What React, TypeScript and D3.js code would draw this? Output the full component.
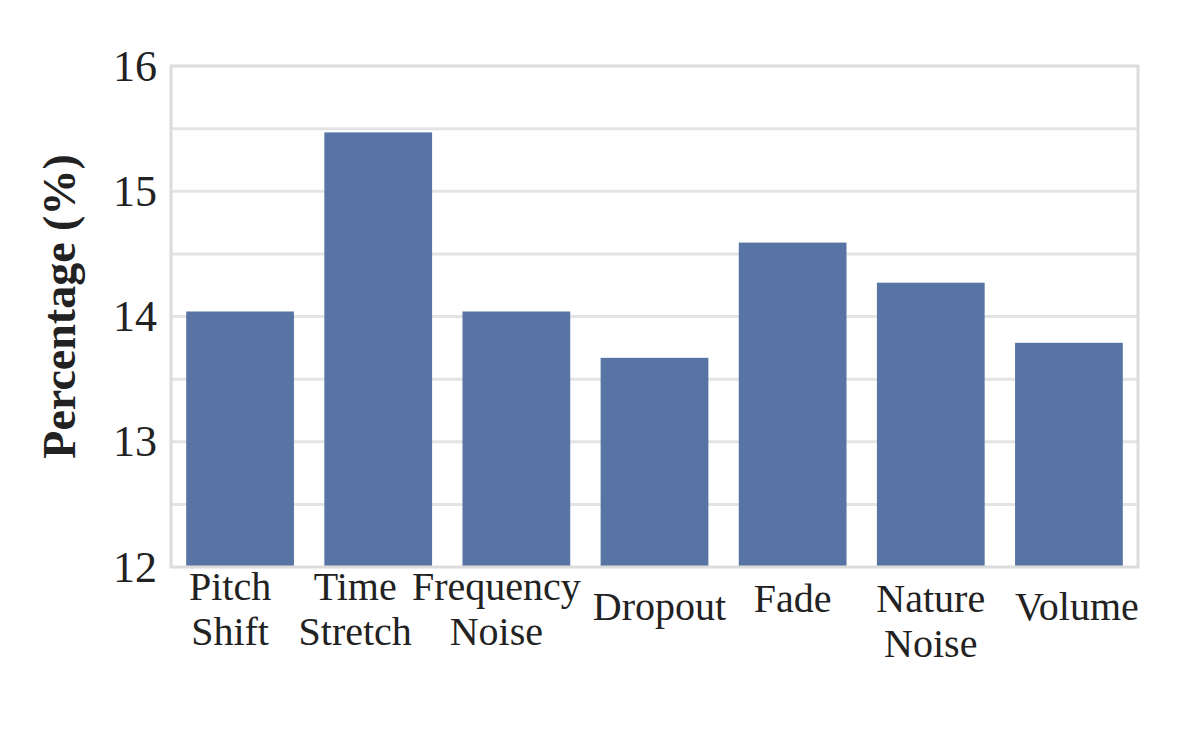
import React from "react";
import * as d3 from "d3";

const categories: string[][] = [
  ["Pitch", "Shift"],
  ["Time", "Stretch"],
  ["Frequency", "Noise"],
  ["Dropout"],
  ["Fade"],
  ["Nature", "Noise"],
  ["Volume"],
];
const values: number[] = [14.04, 15.47, 14.04, 13.67, 14.59, 14.27, 13.79];
const yTicks: number[] = [12, 13, 14, 15, 16];
const yGrid: number[] = [12.5, 13, 13.5, 14, 14.5, 15, 15.5];
const yLabel = "Percentage (%)";

// layout: per-label offsets (dx from band centre, baseline y of first line)
const labelDx: number[] = [-10, -23, -20, 5, 0, 0, 8];
const labelBaseline: number[] = [600, 600, 600, 620, 612, 612, 620];

const W = 1200;
const H = 733;
const M = { left: 171, right: 1138, top: 66, bottom: 567 };
const FONT = "'Liberation Serif', 'Times New Roman', serif";

export default function App() {
  const keys = categories.map((c) => c.join(" "));
  const x = d3
    .scaleBand<string>()
    .domain(keys)
    .range([M.left, M.right])
    .paddingInner(0.22)
    .paddingOuter(0.11);
  const y = d3.scaleLinear().domain([12, 16]).range([M.bottom, M.top]);

  return (
    <svg
      width={W}
      height={H}
      style={{ position: "absolute", left: 0, top: 0, background: "#fff" }}
    >
      {yGrid.map((g) => (
        <line
          key={"g" + g}
          x1={M.left}
          x2={M.right}
          y1={y(g)}
          y2={y(g)}
          stroke="#e4e4e4"
          strokeWidth={3}
        />
      ))}
      {values.map((v, i) => (
        <rect
          key={keys[i]}
          x={x(keys[i])}
          y={y(v)}
          width={x.bandwidth()}
          height={y(12) - y(v)}
          fill="#5874a4"
        />
      ))}
      <rect
        x={M.left}
        y={M.top}
        width={M.right - M.left}
        height={M.bottom - M.top}
        fill="none"
        stroke="#dcdcdc"
        strokeWidth={3}
      />
      {yTicks.map((t) => (
        <text
          key={"t" + t}
          x={157}
          y={y(t)}
          textAnchor="end"
          dominantBaseline="central"
          fontFamily={FONT}
          fontSize={44}
          fill="#222"
        >
          {t}
        </text>
      ))}
      {categories.map((lines, i) => {
        const cx = (x(keys[i]) as number) + x.bandwidth() / 2 + labelDx[i];
        return (
          <text
            key={"c" + i}
            x={cx}
            y={labelBaseline[i]}
            textAnchor="middle"
            fontFamily={FONT}
            fontSize={40}
            fill="#222"
          >
            {lines.map((l, j) => (
              <tspan key={j} x={cx} dy={j === 0 ? 0 : 45}>
                {l}
              </tspan>
            ))}
          </text>
        );
      })}
      <text
        transform={`translate(75, ${(M.top + M.bottom) / 2 - 10}) rotate(-90)`}
        textAnchor="middle"
        fontFamily={FONT}
        fontWeight="bold"
        fontSize={46}
        fill="#222"
      >
        {yLabel}
      </text>
    </svg>
  );
}
